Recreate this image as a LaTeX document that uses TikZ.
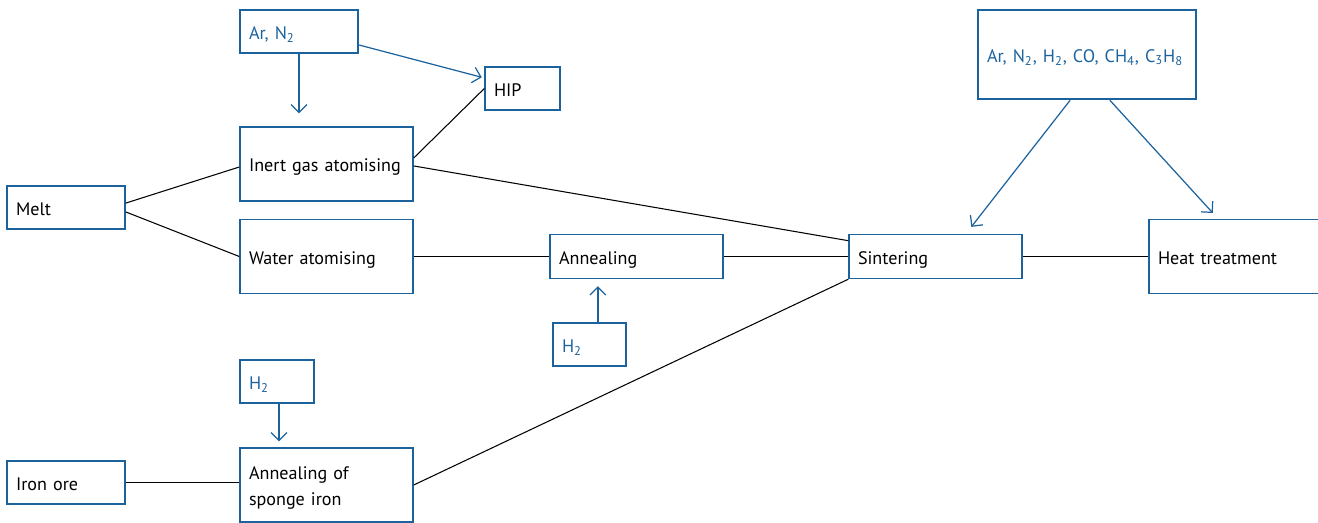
\documentclass[tikz,border=0pt]{standalone}
\usepackage{fontspec}
\setmainfont{PT Sans}
\usetikzlibrary{arrows.meta}
\definecolor{mblue}{RGB}{28,99,158}

\begin{document}
\begin{tikzpicture}[x=0.02cm,y=-0.02cm,>={Straight Barb[length=4.5pt,width=9pt]},
    box/.style={draw=mblue,line width=0.8pt,inner xsep=0pt,inner ysep=0pt,align=left,
      text height=8.6pt,text depth=0pt,font=\fontsize{10.3}{14.7}\selectfont},
    gasbox/.style={box,line width=1.4pt,text=mblue},
    gasline/.style={->,mblue,line width=0.7pt},
    link/.style={line width=0.6pt}]
  \useasboundingbox (0,0) rectangle (1318,522);
  \clip (0,0) rectangle (1318,522);

  \node[gasbox,minimum width=2.36cm,minimum height=0.86cm,text width=2.0cm] (Ar) at (299,31.5) {Ar, N\textsubscript{2}};
  \node[box,minimum width=1.5cm,minimum height=0.86cm,text width=1.14cm] (HIP) at (522.5,88.5) {HIP};
  \node[box,minimum width=3.46cm,minimum height=1.48cm,text width=3.1cm] (Inert) at (326.5,164) {Inert gas atomising};
  \node[box,minimum width=2.36cm,minimum height=0.86cm,text width=2.0cm] (Melt) at (66,207.5) {Melt};
  \node[box,minimum width=3.46cm,minimum height=1.48cm,text width=3.1cm] (Water) at (326.5,256.5) {Water atomising};
  \node[box,minimum width=3.46cm,minimum height=0.88cm,text width=3.1cm] (Ann) at (636.5,256.5) {Annealing};
  \node[gasbox,minimum width=1.46cm,minimum height=0.86cm,text width=1.1cm] (Hann) at (589.5,344.5) {H\textsubscript{2}};
  \node[box,minimum width=3.46cm,minimum height=0.88cm,text width=3.1cm] (Sint) at (935.5,256.5) {Sintering};
  \node[box,minimum width=3.46cm,minimum height=1.48cm,text width=3.1cm] (Heat) at (1235.5,256.5) {Heat treatment};
  \node[gasbox,minimum width=4.36cm,minimum height=1.78cm,text width=4.0cm] (Gas) at (1087,54.5)
    {Ar, N\textsubscript{2}, H\textsubscript{2}, CO, CH\textsubscript{4}, C\textsubscript{3}H\textsubscript{8}};
  \node[gasbox,minimum width=1.48cm,minimum height=0.86cm,text width=1.12cm] (Hsp) at (277,381.5) {H\textsubscript{2}};
  \node[box,minimum width=2.36cm,minimum height=0.86cm,text width=2.0cm] (Ore) at (66,482.5) {Iron ore};
  \node[box,text height={},text depth={},minimum width=3.46cm,minimum height=1.48cm,text width=3.1cm] (Sp) at (326.5,485)
    {\rule{0pt}{11pt}Annealing of\\sponge iron};

  % process lines
  \draw[link] ([yshift=2.5pt]Melt.east) -- ([yshift=-1.7pt]Inert.west);
  \draw[link] ([yshift=-2.5pt]Melt.east) -- (Water.west);
  \draw[link] ([yshift=3.4pt]Inert.east) -- (HIP.west);
  \draw[link] ([yshift=-1.1pt]Inert.east) -- ([yshift=9pt]Sint.west);
  \draw[link] (Water.east) -- (Ann.west);
  \draw[link] (Ann.east) -- (Sint.west);
  \draw[link] (Sp.east) -- (Sint.south west);
  \draw[link] (Sint.east) -- (Heat.west);
  \draw[link] (Ore.east) -- (Ore.east -| Sp.west);

  % gas supply
  \draw[gasline,shorten >=7.4pt] (Ar.south) -- (Ar.south |- Inert.north);
  \draw[gasline,shorten >=1.5pt] ([yshift=-7.7pt]Ar.east) -- ([yshift=6pt]HIP.west);
  \draw[gasline,shorten >=4pt] ([xshift=4.8pt]Hann.north) -- ([xshift=4.8pt]Hann.north |- Ann.south);
  \draw[gasline,shorten >=3.4pt] ([xshift=1.1pt]Hsp.south) -- ([xshift=1.1pt]Hsp.south |- Sp.north);
  \draw[gasline,shorten >=5pt] ([xshift=-9.6pt]Gas.south) -- ([xshift=17.3pt]Sint.north);
  \draw[gasline,shorten >=4.5pt] ([xshift=13pt]Gas.south) -- ([xshift=-9.9pt]Heat.north);
\end{tikzpicture}
\end{document}
